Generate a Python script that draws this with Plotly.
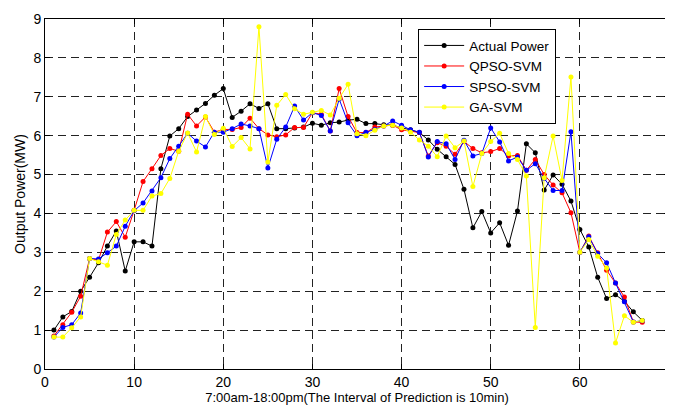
import plotly.graph_objects as go

x = list(range(1, 68))

actual = [1.0, 1.34, 1.48, 2.0, 2.36, 2.73, 3.16, 3.55, 2.52, 3.27,
          3.27, 3.16, 5.15, 5.99, 6.18, 6.49, 6.66, 6.83, 7.04, 7.21,
          6.47, 6.63, 6.82, 6.70, 6.82, 6.18, 6.18, 6.2, 6.22, 6.32,
          6.27, 6.33, 6.35, 6.4, 6.42, 6.31, 6.31, 6.28, 6.27, 6.2,
          6.15, 6.08, 5.89, 5.65, 5.46, 5.26, 4.62, 3.63, 4.05, 3.5,
          3.76, 3.18, 4.06, 5.79, 5.56, 4.6, 4.99, 4.75, 4.32, 3.59,
          3.14, 2.36, 1.81, 1.91, 1.74, 1.47, 1.25]

qpso = [0.85, 1.14, 1.46, 1.87, 2.84, 2.8, 3.52, 3.79, 3.39, 4.08,
        4.82, 5.15, 5.49, 5.67, 5.6, 6.55, 6.25, 6.48, 6.09, 6.16,
        6.16, 6.21, 6.45, 6.18, 6.02, 5.97, 6.02, 6.21, 6.21, 6.59,
        6.55, 6.12, 7.21, 6.49, 6.08, 6.08, 6.22, 6.25, 6.27, 6.15,
        6.12, 6.08, 5.48, 5.82, 5.73, 5.52, 5.85, 5.67, 5.56, 5.59,
        5.67, 5.48, 5.49, 5.11, 5.39, 5.0, 4.73, 4.53, 4.02, 3.0,
        3.42, 2.99, 2.54, 2.21, 1.85, 1.21, 1.2]

spso = [0.82, 1.07, 1.14, 1.44, 2.84, 2.83, 2.99, 3.16, 3.67, 4.07,
        4.27, 4.58, 4.92, 5.41, 5.73, 6.06, 5.86, 5.71, 6.09, 6.09,
        6.18, 6.30, 6.25, 6.18, 5.17, 5.91, 6.22, 6.76, 6.4, 6.59,
        6.52, 6.12, 6.94, 6.33, 6.0, 6.09, 6.16, 6.25, 6.38, 6.27,
        6.15, 6.09, 5.45, 5.85, 5.79, 5.39, 5.88, 5.48, 5.54, 6.2,
        5.84, 5.35, 5.45, 5.11, 5.28, 4.9, 4.59, 4.59, 6.1, 3.0,
        3.4, 2.97, 2.73, 2.21, 1.73, 1.21, 1.24]

ga = [0.82, 0.82, 1.06, 1.34, 2.84, 2.76, 2.67, 3.46, 3.83, 4.08,
      4.08, 4.45, 4.51, 4.9, 5.6, 6.07, 5.58, 6.49, 6.03, 6.19,
      5.72, 5.95, 5.66, 8.8, 5.32, 6.78, 7.06, 6.69, 6.55, 6.6,
      6.65, 6.53, 6.96, 7.32, 6.05, 6.0, 6.14, 6.25, 6.27, 6.2,
      6.09, 5.89, 5.73, 5.46, 5.99, 5.69, 5.86, 4.69, 5.54, 5.85,
      6.06, 5.54, 5.39, 4.96, 1.07, 4.92, 5.99, 4.85, 7.51, 3.0,
      3.33, 2.9, 2.6, 0.67, 1.37, 1.2, 1.25]

series = [("Actual Power", actual, "black"),
          ("QPSO-SVM", qpso, "red"),
          ("SPSO-SVM", spso, "blue"),
          ("GA-SVM", ga, "yellow")]

fig = go.Figure()
for name, vals, col in series:
    fig.add_trace(go.Scatter(
        x=x, y=vals, name=name, mode="lines+markers",
        line=dict(color=col, width=1),
        marker=dict(color=col, size=5)))

font = "Liberation Sans"
axis_common = dict(
    showline=True, linecolor="black", linewidth=1, mirror="ticks",
    ticks="inside", ticklen=5, tickcolor="black",
    showgrid=True, gridcolor="#222", griddash="8px,5px", gridwidth=1,
    zeroline=False, automargin=False,
    tickfont=dict(family=font, size=14, color="black"),
)

# the page body keeps an 8px margin, so the figure is a bit smaller than the window
fig.update_layout(
    width=665, height=404,
    margin=dict(l=37, r=4, t=11, b=43),
    plot_bgcolor="white", paper_bgcolor="white",
    font=dict(family=font, size=14, color="black"),
    xaxis=dict(range=[0, 70], dtick=10,
               title=dict(text="7:00am-18:00pm(The Interval of Prediction is 10min)",
                          font=dict(family=font, size=13),
                          standoff=0),
               **axis_common),
    yaxis=dict(range=[0, 9], dtick=1,
               title=dict(text="Output Power(MW)", font=dict(size=14), standoff=4),
               **axis_common),
    legend=dict(x=0.598, y=0.971, xanchor="left", yanchor="top",
                bgcolor="white", bordercolor="black", borderwidth=1,
                font=dict(family=font, size=13.5), itemwidth=40,
                tracegroupgap=0),
)

fig.write_html("out.html")
